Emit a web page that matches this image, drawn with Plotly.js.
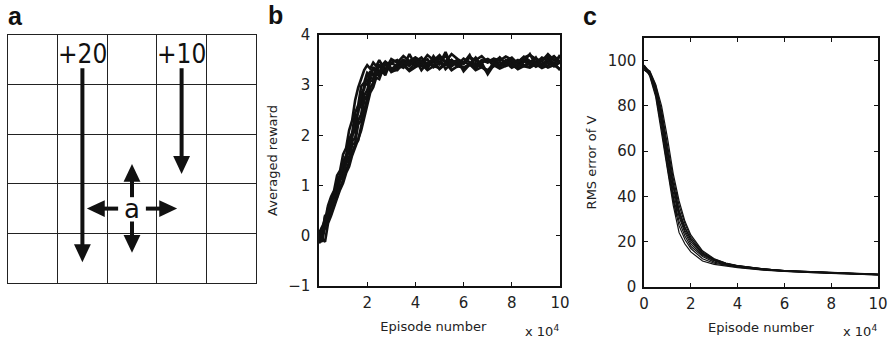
<!DOCTYPE html>
<html>
<head>
<meta charset="utf-8">
<script src="https://cdn.plot.ly/plotly-3.0.1.min.js"></script>
<style>html,body{margin:0;padding:0;background:#fff}#chart{width:892px;height:341px}</style>
</head>
<body>
<div id="chart"></div>
<script>
// ---------- Panel b : averaged reward ----------
const xB = [0,0.125,0.25,0.375,0.5,0.625,0.75,0.875,1,1.125,1.25,1.375,1.5,1.625,1.75,1.875,2,2.125,2.25,2.375,2.5,2.625,2.75,2.875,3,
  3.25,3.5,3.75,4,4.25,4.5,4.75,5,5.25,5.5,5.75,6,6.25,6.5,6.75,7,7.25,7.5,7.75,8,8.25,8.5,8.75,9,9.25,9.5,9.75,10];
const rewardRun1 = [0.05,0.18,0.3,0.6,0.78,0.9,1.2,1.3,1.62,1.75,2.1,2.3,2.7,2.95,3.15,3.3,3.4,3.33,3.45,3.38,3.5,3.4,3.47,3.42,3.52,
  3.45,3.58,3.48,3.55,3.44,3.6,3.5,3.56,3.47,3.62,3.52,3.45,3.55,3.5,3.58,3.46,3.53,3.49,3.57,3.51,3.45,3.55,3.6,3.52,3.48,3.62,3.5,3.56];
const rewardRun2 = [-0.1,0.05,0.38,0.45,0.72,0.8,1.12,1.2,1.48,1.6,1.92,2.05,2.45,2.6,2.98,3.05,3.25,3.2,3.36,3.28,3.4,3.3,3.42,3.35,3.44,
  3.38,3.5,3.42,3.47,3.55,3.4,3.49,3.6,3.44,3.5,3.41,3.53,3.46,3.39,3.5,3.45,3.52,3.4,3.48,3.55,3.43,3.5,3.46,3.53,3.4,3.49,3.57,3.45];
const rewardRun3 = [0.0,0.15,0.22,0.55,0.58,0.86,0.92,1.22,1.28,1.58,1.68,2.0,2.1,2.5,2.62,3.0,3.02,3.28,3.18,3.35,3.25,3.4,3.3,3.44,3.32,
  3.4,3.35,3.47,3.38,3.45,3.52,3.36,3.44,3.4,3.5,3.37,3.46,3.42,3.33,3.45,3.22,3.4,3.46,3.38,3.44,3.5,3.4,3.36,3.47,3.42,3.52,3.38,3.45];
const rewardRun4 = [-0.12,0.0,0.2,0.5,0.52,0.8,0.88,1.15,1.2,1.5,1.56,1.88,1.95,2.3,2.42,2.8,2.9,3.15,3.12,3.3,3.22,3.36,3.27,3.38,3.3,
  3.36,3.42,3.3,3.45,3.38,3.35,3.48,3.32,3.42,3.38,3.46,3.34,3.4,3.44,3.36,3.3,3.42,3.38,3.45,3.35,3.41,3.38,3.46,3.37,3.43,3.35,3.4,3.32];
const rewardRun5 = [-0.05,-0.12,0.18,0.3,0.5,0.62,0.82,0.95,1.12,1.3,1.45,1.65,1.82,1.9,2.2,2.5,2.75,2.95,3.05,3.22,3.18,3.32,3.25,3.38,3.3,
  3.42,3.5,3.44,3.55,3.48,3.4,3.52,3.46,3.58,3.45,3.5,3.42,3.56,3.48,3.44,3.52,3.47,3.55,3.43,3.5,3.46,3.57,3.48,3.44,3.55,3.5,3.58,3.46];
const rewardRun6 = [-0.15,-0.05,-0.12,0.25,0.4,0.6,0.75,0.92,1.05,1.25,1.38,1.6,1.75,1.92,2.1,2.35,2.6,2.85,2.96,3.15,3.12,3.28,3.2,3.35,3.26,
  3.32,3.4,3.28,3.36,3.42,3.3,3.38,3.34,3.45,3.3,3.38,3.35,3.42,3.3,3.36,3.28,3.4,3.33,3.38,3.44,3.32,3.38,3.35,3.42,3.34,3.4,3.45,3.3];
const rewardRun7 = [0.08,0.02,0.4,0.42,0.7,0.76,1.08,1.1,1.45,1.5,1.85,1.95,2.32,2.45,2.85,2.92,3.22,3.15,3.35,3.24,3.42,3.3,3.46,3.36,3.45,
  3.5,3.36,3.62,3.4,3.48,3.35,3.58,3.42,3.66,3.38,3.5,3.44,3.6,3.35,3.47,3.52,3.38,3.55,3.42,3.5,3.36,3.48,3.62,3.4,3.5,3.58,3.42,3.6];
const rewardRun8 = [-0.08,0.12,0.15,0.5,0.48,0.8,0.78,1.12,1.15,1.45,1.5,1.82,1.85,2.22,2.3,2.7,2.8,3.1,3.08,3.28,3.2,3.35,3.26,3.4,3.3,
  3.3,3.46,3.38,3.52,3.3,3.45,3.4,3.54,3.32,3.44,3.5,3.28,3.42,3.55,3.38,3.25,3.46,3.36,3.5,3.4,3.33,3.48,3.4,3.55,3.36,3.45,3.38,3.5];
const rewardRuns = [rewardRun1,rewardRun2,rewardRun3,rewardRun4,rewardRun5,rewardRun6,rewardRun7,rewardRun8];
const xTicksB = [2,4,6,8,10];
const yTicksB = [-1,0,1,2,3,4];

// ---------- Panel c : RMS error of V ----------
const xC = [0,0.25,0.5,0.75,1,1.25,1.5,1.75,2,2.5,3,3.5,4,5,6,7,8,9,10];
const rmsRun1 = [98,93,84,68,50,36,24,19,15.5,11.5,10,9.2,8.6,7.5,6.8,6.4,6.0,5.7,5.3];
const rmsRun2 = [97,93.5,85,70,53,38,27,21,17,12.5,10.5,9.5,8.8,7.7,6.9,6.5,6.1,5.8,5.4];
const rmsRun3 = [96,94,86,72,55,40,29,22.5,18,13.5,11,9.8,9,7.8,7.0,6.6,6.2,5.8,5.5];
const rmsRun4 = [98,94.5,87,74,57,42,31,24,19,14,11.5,10,9.1,7.9,7.1,6.6,6.2,5.9,5.6];
const rmsRun5 = [97,95,88,75,59,44,32,25,20,14.5,11.8,10.2,9.2,8.0,7.1,6.7,6.3,5.9,5.6];
const rmsRun6 = [96,94,87.5,76,61,46,34,26.5,21,15,12,10.3,9.3,8.0,7.2,6.7,6.3,5.9,5.5];
const rmsRun7 = [98,95,89,78,63,48,36,28,22,15.5,12.3,10.5,9.4,8.1,7.2,6.8,6.4,6.0,5.7];
const rmsRun8 = [97,95.5,89.5,80,66,50,38,29,23,16,12.5,10.6,9.5,8.1,7.3,6.8,6.4,6.0,5.6];
const rmsRun9 = [96,94.5,88,77,60,45,33,26,21,14.8,11.8,10.1,9.2,7.9,7.0,6.6,6.2,5.8,5.5];
const rmsRuns = [rmsRun1,rmsRun2,rmsRun3,rmsRun4,rmsRun5,rmsRun6,rmsRun7,rmsRun8,rmsRun9];
const xC10 = [0,0.25,0.5,0.75,1,1.25,1.38,1.4];
const rmsRun10 = [97,94,87,73,56,40,31,42];
const xTicksC = [0,2,4,6,8,10];
const yTicksC = [0,20,40,60,80,100];

// ---------- Panel a : grid world ----------
const gridSize = 5;
const rewardLabels = ['+20','+10'];
const rewardCols = [1.5,3.5];
const rewardRow = 4.62;
const agentLabel = 'a';
const agentPos = [2.5,1.5];
// arrows: tail (x,y) -> tip (x,y), grid-cell units
const arrowTailX = [1.5,3.5,2.5,2.5,2.22,2.78];
const arrowTailY = [4.33,4.33,1.73,1.24,1.5,1.5];
const arrowTipX  = [1.5,3.5,2.5,2.5,1.59,3.41];
const arrowTipY  = [0.42,2.2,2.40,0.61,1.5,1.5];
const headLen = 0.36, headHalf = 0.17;

const traces = [];
rewardRuns.forEach(r => traces.push({x:xB,y:r,type:'scatter',mode:'lines',xaxis:'x',yaxis:'y',
  line:{color:'#111',width:2.6},hoverinfo:'skip'}));
rmsRuns.forEach(r => traces.push({x:xC,y:r,type:'scatter',mode:'lines',xaxis:'x2',yaxis:'y2',
  line:{color:'#111',width:1.2},hoverinfo:'skip'}));
traces.push({x:xC10,y:rmsRun10,type:'scatter',mode:'lines',xaxis:'x2',yaxis:'y2',line:{color:'#111',width:1.2},hoverinfo:'skip'});
traces.push({x:[0,gridSize],y:[0,gridSize],type:'scatter',mode:'markers',xaxis:'x3',yaxis:'y3',marker:{opacity:0},hoverinfo:'skip'});

const shapes = [];
arrowTailX.forEach((tx,i)=>{
  const ty = arrowTailY[i], hx = arrowTipX[i], hy = arrowTipY[i];
  const len = Math.hypot(hx-tx, hy-ty), dx = (hx-tx)/len, dy = (hy-ty)/len;
  const bx = hx - headLen*dx, by = hy - headLen*dy;
  shapes.push({type:'line',xref:'x3',yref:'y3',x0:tx,y0:ty,x1:bx+0.02*dx,y1:by+0.02*dy,line:{color:'#111',width:4}});
  const p1x = bx - headHalf*dy, p1y = by + headHalf*dx, p2x = bx + headHalf*dy, p2y = by - headHalf*dx;
  shapes.push({type:'path',xref:'x3',yref:'y3',path:`M${hx},${hy} L${p1x},${p1y} L${p2x},${p2y} Z`,
    fillcolor:'#111',line:{width:0}});
});

const F = 'DejaVu Sans, sans-serif';
const titleFont = {family:F,size:13,color:'#222'};
const axBase = {showline:true,linecolor:'#111',linewidth:1.6,mirror:'ticks',ticks:'inside',ticklen:4,tickwidth:1,
  tickcolor:'#111',showgrid:false,zeroline:false,tickfont:{family:F,size:15,color:'#222'},fixedrange:true,automargin:false};

const annotations = [];
function addText(text,x,y,opts){annotations.push(Object.assign({text:text,x:x,y:y,xref:'paper',yref:'paper',showarrow:false,
  xanchor:'center',yanchor:'middle',font:titleFont},opts||{}));}
const LB = {family:'Liberation Sans, Arial, sans-serif',size:25,color:'#111'};
addText('<b>a</b>',6/892,1-16/341,{xanchor:'left',font:LB});
addText('<b>b</b>',266/892,1-15/341,{xanchor:'left',font:LB});
addText('<b>c</b>',581/892,1-16/341,{xanchor:'left',font:LB});
addText('x 10<sup>4</sup>',561/892,1-331/341,{xanchor:'right'});
addText('x 10<sup>4</sup>',879/892,1-331/341,{xanchor:'right'});
rewardLabels.forEach((t,i)=>annotations.push({text:t,x:rewardCols[i],y:rewardRow,xref:'x3',yref:'y3',showarrow:false,
  xanchor:'center',yanchor:'middle',font:{family:'DejaVu Sans Condensed, DejaVu Sans, sans-serif',size:26,color:'#111'}}));
annotations.push({text:agentLabel,x:agentPos[0],y:agentPos[1],xref:'x3',yref:'y3',showarrow:false,xanchor:'center',yanchor:'middle',
  font:{family:F,size:26,color:'#111'}});

const layout = {
  width:892,height:341,margin:{l:0,r:0,t:0,b:0},paper_bgcolor:'#fff',plot_bgcolor:'#fff',showlegend:false,
  xaxis:Object.assign({},axBase,{domain:[319/892,560/892],range:[0,10],tickvals:xTicksB,anchor:'y',ticklabelstandoff:2,
    title:{text:'Episode number&nbsp;&nbsp;&nbsp;',font:titleFont,standoff:11}}),
  yaxis:Object.assign({},axBase,{domain:[1-286/341,1-35/341],range:[-1,4],tickvals:yTicksB,anchor:'x',ticklabelstandoff:4,
    title:{text:'Averaged reward',font:titleFont,standoff:8}}),
  xaxis2:Object.assign({},axBase,{domain:[644/892,878/892],range:[0,10],tickvals:xTicksC,anchor:'y2',ticklabelstandoff:2,
    title:{text:'Episode number',font:titleFont,standoff:11}}),
  yaxis2:Object.assign({},axBase,{domain:[1-287/341,1-38/341],range:[0,110],tickvals:yTicksC,anchor:'x2',ticklabelstandoff:3,
    title:{text:'RMS error of V',font:titleFont,standoff:8}}),
  xaxis3:{domain:[8/892,256/892],range:[0,gridSize],dtick:1,showgrid:true,gridcolor:'#222',gridwidth:1.3,showline:true,
    linecolor:'#222',linewidth:1.3,mirror:true,showticklabels:false,ticks:'',zeroline:false,anchor:'y3',fixedrange:true},
  yaxis3:{domain:[1-283/341,1-35/341],range:[0,gridSize],dtick:1,showgrid:true,gridcolor:'#222',gridwidth:1.3,showline:true,
    linecolor:'#222',linewidth:1.3,mirror:true,showticklabels:false,ticks:'',zeroline:false,anchor:'x3',fixedrange:true},
  shapes:shapes,
  annotations:annotations
};
Plotly.newPlot('chart',traces,layout,{staticPlot:true,displayModeBar:false});
</script>
</body>
</html>
